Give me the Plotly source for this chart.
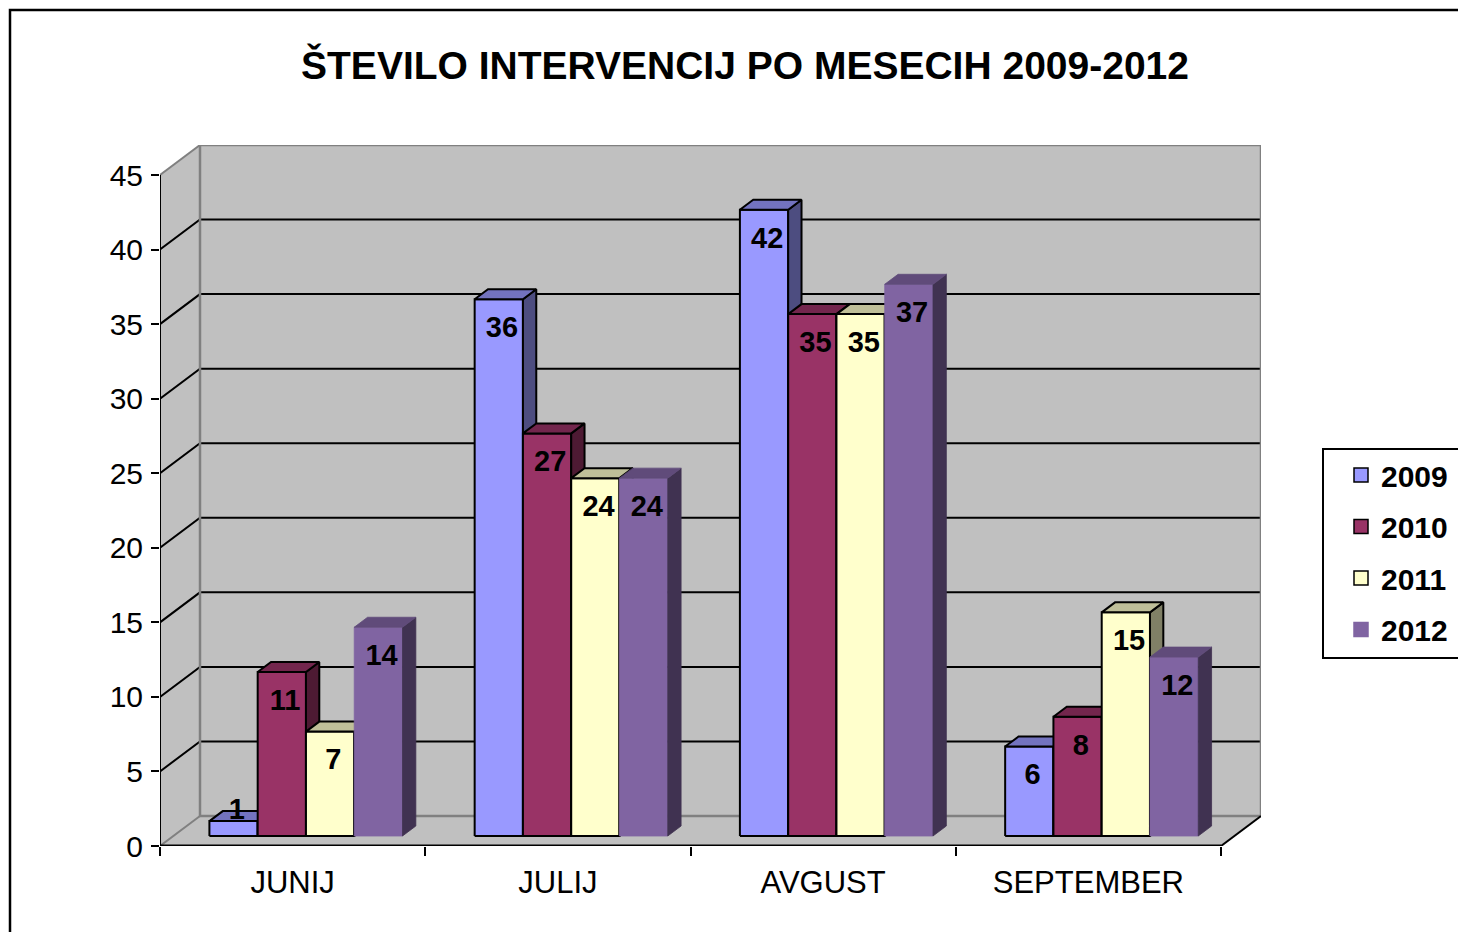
import plotly.graph_objects as go

# ---------------- data ----------------
categories = ["JUNIJ", "JULIJ", "AVGUST", "SEPTEMBER"]
series_names = ["2009", "2010", "2011", "2012"]
v2009 = [1, 36, 42, 6]
v2010 = [11, 27, 35, 8]
v2011 = [7, 24, 35, 15]
v2012 = [14, 24, 37, 12]
y_tick_values = [0, 5, 10, 15, 20, 25, 30, 35, 40, 45]
title_text = "ŠTEVILO INTERVENCIJ PO MESECIH 2009-2012"

series_values = [v2009, v2010, v2011, v2012]

# ---------------- styles ----------------
front_colors = ["#9999FF", "#993366", "#FFFFCC", "#8064A2"]
top_colors = ["#7373BF", "#73264D", "#BFBF99", "#604B7A"]
side_colors = ["#4D4D80", "#4D1A33", "#808066", "#403251"]
has_outline = [True, True, True, False]
WALL = "#C0C0C0"
WALL_EDGE = "#808080"
FONT = "Liberation Sans, Arial, sans-serif"

# ---------------- geometry (pixels -> axis units) ----------------
PAGE_W, PAGE_H = 1466, 932
BODY = 8                         # default page margin around the plot div
W, H = PAGE_W - BODY, PAGE_H - BODY
L_PX, T_PX = 160, 145            # page coordinates of plot-area corner
CAT_PX = 265.25                  # pixels per category
UNIT_PX = 14.911                 # pixels per value unit
DEPTH_X_PX, DEPTH_Y_PX = 40, 30
DX = DEPTH_X_PX / CAT_PX
DY = DEPTH_Y_PX / UNIT_PX
NCAT = len(categories)
YTOP = y_tick_values[-1]
XMAX = NCAT + DX
YMAX = YTOP + DY
PW = XMAX * CAT_PX
PH = YMAX * UNIT_PX
ML = L_PX - BODY
MT = T_PX - BODY
MR = W - ML - PW
MB = H - MT - PH
BAR_W = 0.182
BDX, BDY = DX / 3, DY / 3   # bar front offset and bar depth


def px_x(p):
    return (p - L_PX) / PW


def px_y(p):
    return (T_PX + PH - p) / PH


fig = go.Figure()

# ---------------- bars (front, side, top faces) ----------------
label_x, label_y, label_t = [], [], []
for s, vals in enumerate(series_values):
    fx, fy, sx, sy, tx, ty = [], [], [], [], [], []
    for i, v in enumerate(vals):
        x0 = i + 0.5 - 2 * BAR_W + s * BAR_W + BDX
        x1 = x0 + BAR_W
        y0 = BDY
        y1 = v + BDY
        fx += [x0, x1, x1, x0, x0, None]
        fy += [y0, y0, y1, y1, y0, None]
        sx += [x1, x1 + BDX, x1 + BDX, x1, x1, None]
        sy += [y0, y0 + BDY, y1 + BDY, y1, y0, None]
        tx += [x0, x1, x1 + BDX, x0 + BDX, x0, None]
        ty += [y1, y1, y1 + BDY, y1 + BDY, y1, None]
        label_x.append((x0 + x1) / 2 + 0.012)
        label_y.append(y1 - 2.05 if v >= 3 else y1 + 0.6)
        label_t.append(str(v))
    for xs, ys, col in [(fx, fy, front_colors[s]), (sx, sy, side_colors[s]), (tx, ty, top_colors[s])]:
        fig.add_trace(go.Scatter(
            x=xs, y=ys, mode="lines", fill="toself", fillcolor=col,
            line=dict(color="black" if has_outline[s] else col, width=2 if has_outline[s] else 0.8),
            showlegend=False, hoverinfo="skip"))

# data labels
fig.add_trace(go.Scatter(
    x=label_x, y=label_y, text=label_t, mode="text",
    textfont=dict(family=FONT, size=29, color="black", weight="bold"),
    textposition="middle center", showlegend=False, hoverinfo="skip", cliponaxis=False))

# legend entries
for s, name in enumerate(series_names):
    fig.add_trace(go.Scatter(
        x=[None], y=[None], mode="markers", name=name, legendgroup=name,
        marker=dict(symbol="square", size=14, color=front_colors[s],
                    line=dict(color="black" if has_outline[s] else front_colors[s], width=1.5)),
        showlegend=True))

# ---------------- walls, floor, grid ----------------
shapes = []
shapes.append(dict(type="rect", xref="x", yref="y", x0=DX, x1=NCAT + DX, y0=DY, y1=YMAX,
                   fillcolor=WALL, line=dict(width=0), layer="below"))
shapes.append(dict(type="path", xref="x", yref="y",
                   path=f"M 0,0 L {DX},{DY} L {DX},{YMAX} L 0,{YTOP} Z",
                   fillcolor=WALL, line=dict(width=0), layer="below"))
shapes.append(dict(type="path", xref="x", yref="y",
                   path=f"M 0,0 L {NCAT},0 L {NCAT + DX},{DY} L {DX},{DY} Z",
                   fillcolor=WALL, line=dict(width=0), layer="below"))
for v in y_tick_values[1:-1]:
    shapes.append(dict(type="path", xref="x", yref="y",
                       path=f"M 0,{v} L {DX},{v + DY} L {NCAT + DX},{v + DY}",
                       line=dict(color="black", width=2), layer="below"))
# wall edges
shapes.append(dict(type="rect", xref="x", yref="y", x0=DX, x1=NCAT + DX, y0=DY, y1=YMAX,
                   line=dict(color=WALL_EDGE, width=2.5), layer="below"))
shapes.append(dict(type="line", xref="x", yref="y", x0=0, y0=YTOP, x1=DX, y1=YMAX,
                   line=dict(color=WALL_EDGE, width=2), layer="below"))
shapes.append(dict(type="line", xref="x", yref="y", x0=0, y0=0, x1=DX, y1=DY,
                   line=dict(color=WALL_EDGE, width=2), layer="below"))
shapes.append(dict(type="line", xref="x", yref="y", x0=NCAT, y0=0, x1=NCAT + DX, y1=DY,
                   line=dict(color="black", width=2), layer="below"))
# axis lines
shapes.append(dict(type="line", xref="x", yref="y", x0=0, y0=0, x1=0, y1=YTOP,
                   line=dict(color="black", width=2), layer="below"))
shapes.append(dict(type="line", xref="x", yref="y", x0=0, y0=0, x1=NCAT, y1=0,
                   line=dict(color="black", width=3), layer="below"))
# legend box and outer border
shapes.append(dict(type="rect", xref="paper", yref="paper",
                   x0=px_x(1323), x1=px_x(1465), y0=px_y(658), y1=px_y(449),
                   fillcolor="white", line=dict(color="black", width=2), layer="below"))
shapes.append(dict(type="rect", xref="paper", yref="paper",
                   x0=px_x(10), x1=px_x(1480), y0=px_y(945), y1=px_y(10),
                   line=dict(color="black", width=2.5), layer="above"))

fig.update_layout(
    width=W, height=H, autosize=False,
    margin=dict(l=ML, r=MR, t=MT, b=MB, pad=0),
    paper_bgcolor="white", plot_bgcolor="white",
    shapes=shapes,
    title=dict(text=title_text, x=(745 - BODY) / W, xref="container", xanchor="center",
               y=1 - (65 - BODY) / H, yref="container", yanchor="middle",
               font=dict(family=FONT, size=39, color="black", weight="bold")),
    showlegend=True,
    legend=dict(x=px_x(1341), y=px_y(449), xanchor="left", yanchor="top",
                bgcolor="rgba(0,0,0,0)", borderwidth=0, traceorder="grouped",
                tracegroupgap=9.5,
                font=dict(family=FONT, size=30, color="black", weight="bold")),
    xaxis=dict(range=[0, XMAX], showgrid=False, zeroline=False, showline=False,
               tickmode="array", tickvals=[i + 0.5 for i in range(NCAT)], ticktext=categories,
               ticks="outside", ticklen=9, tickcolor="rgba(0,0,0,0)",
               tickfont=dict(family=FONT, size=31, color="black"),
               minor=dict(tickmode="array", tickvals=list(range(NCAT + 1)), ticks="outside",
                          ticklen=9, tickwidth=2, tickcolor="black", showgrid=False),
               fixedrange=True),
    yaxis=dict(range=[0, YMAX], showgrid=False, zeroline=False, showline=False,
               tickmode="array", tickvals=y_tick_values,
               ticks="outside", ticklen=8, tickwidth=2, tickcolor="black",
               ticklabelstandoff=2,
               tickfont=dict(family=FONT, size=30, color="black"),
               fixedrange=True),
)

fig.write_html("out.html")
